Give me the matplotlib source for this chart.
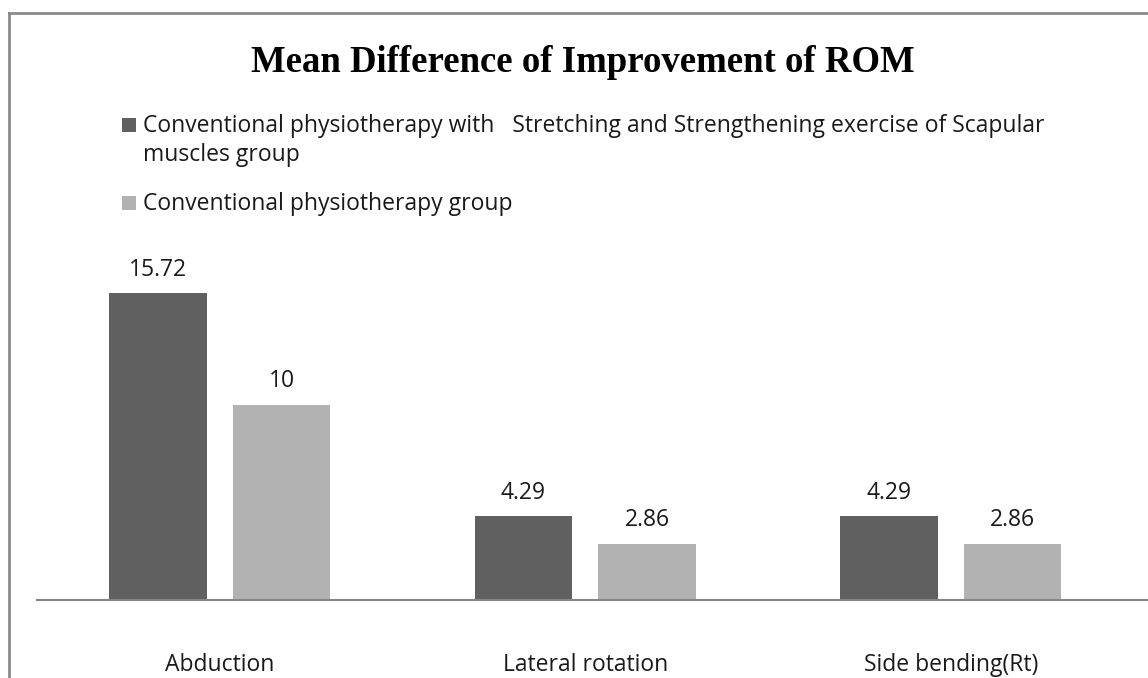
import matplotlib
matplotlib.use("Agg")
import matplotlib.pyplot as plt
import numpy as np
from matplotlib.patches import Rectangle
from matplotlib.lines import Line2D

title = "Mean Difference of Improvement of ROM"
categories = ["Abduction", "Lateral rotation", "Side bending(Rt)"]
series_names = ["Conventional physiotherapy with   Stretching and Strengthening exercise of Scapular\nmuscles group",
                "Conventional physiotherapy group"]
exp_values = [15.72, 4.29, 4.29]
conv_values = [10, 2.86, 2.86]
value_labels_exp = ["15.72", "4.29", "4.29"]
value_labels_conv = ["10", "2.86", "2.86"]

colors = ["#606060", "#b2b2b2"]
W, H = 1148, 678
fig = plt.figure(figsize=(W / 100, H / 100), dpi=100)

# outer frame (top and left edges visible)
fig.add_artist(Line2D([8.5 / W, 8.5 / W], [0, 1 - 13 / H], transform=fig.transFigure, color="#8a8a8a", lw=2))
fig.add_artist(Line2D([8.5 / W, 1], [1 - 13 / H, 1 - 13 / H], transform=fig.transFigure, color="#8a8a8a", lw=2))

ax_left, ax_right = 37 / W, 1.0
base_y = 600
top_y = 250
cat_px = 365.5
ax = fig.add_axes([ax_left, (H - base_y) / H, ax_right - ax_left, (base_y - top_y) / H])
px_per_unit = 19.5
ax.set_ylim(0, (base_y - top_y) / px_per_unit)
ax.set_xlim(0, (W - 37) / cat_px)

x = np.arange(len(categories)) + 0.5
bw = 0.268
off = 0.169
ax.bar(x - off, exp_values, bw, color=colors[0], label=series_names[0])
ax.bar(x + off, conv_values, bw, color=colors[1], label=series_names[1])

font = "Open Sans"
fs = 16.5
for xi, v, t in zip(x - off, exp_values, value_labels_exp):
    ax.annotate(t, (xi, v), xytext=(0, 8.5), textcoords="offset points", ha="center", va="bottom",
                fontsize=fs, family=font, color="#1a1a1a")
for xi, v, t in zip(x + off, conv_values, value_labels_conv):
    ax.annotate(t, (xi, v), xytext=(0, 8.5), textcoords="offset points", ha="center", va="bottom",
                fontsize=fs, family=font, color="#1a1a1a")

for s in ["top", "right", "left"]:
    ax.spines[s].set_visible(False)
ax.spines["bottom"].set_color("#868686")
ax.spines["bottom"].set_linewidth(1.5)
ax.set_yticks([])
ax.set_xticks(x)
ax.set_xticklabels(categories, family=font, fontsize=fs, color="#1a1a1a")
ax.tick_params(axis="x", length=0, pad=38)

fig.text(583 / W, 1 - 62 / H, title, ha="center", va="center", family="Liberation Serif",
         fontweight="bold", fontsize=26.5)

# legend drawn manually: marker boxes and labels (one text per wrapped line)
marker_tops = [118, 196]
text_baselines = [132, 210]
line_step = 29
for c, name, mt, tb in zip(colors, series_names, marker_tops, text_baselines):
    fig.add_artist(Rectangle((122 / W, 1 - (mt + 14) / H), 14 / W, 14 / H, transform=fig.transFigure,
                             facecolor=c, edgecolor="none"))
    for k, line in enumerate(name.split("\n")):
        fig.text(143 / W, 1 - (tb + k * line_step) / H, line, ha="left", va="baseline", family=font,
                 fontsize=fs, color="#1a1a1a")

fig.savefig("out.png", dpi=100)
